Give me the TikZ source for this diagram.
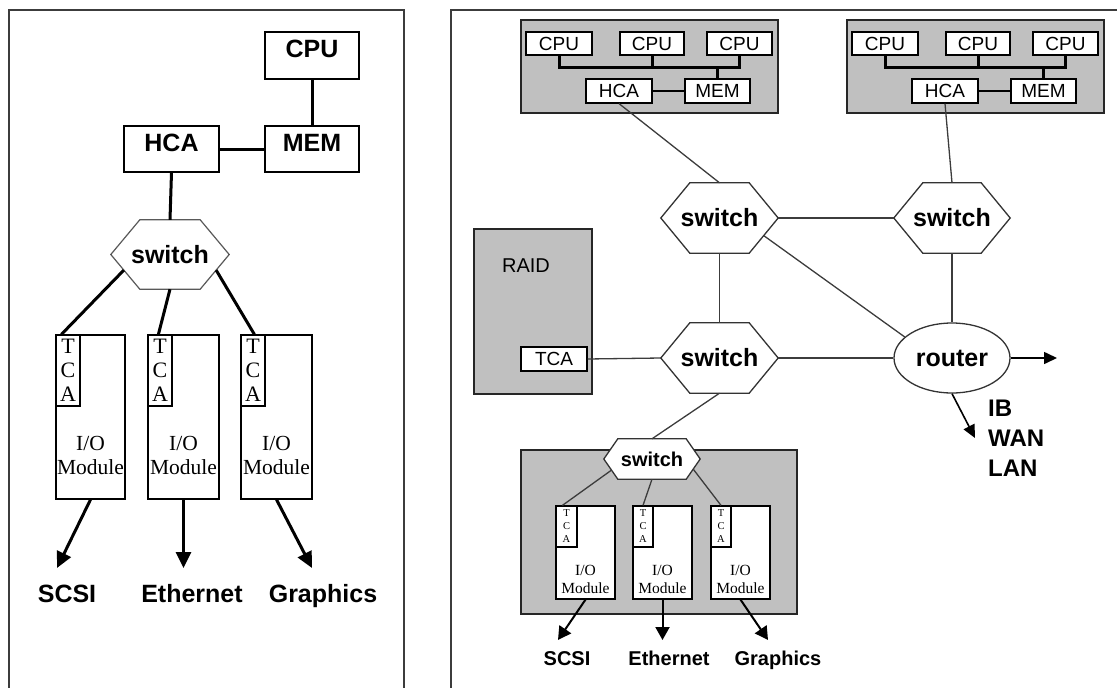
\documentclass[tikz,border=0pt]{standalone}
\usepackage{fontspec}
\setmainfont{Liberation Serif}
\newfontfamily\arialf{Liberation Sans}
\usetikzlibrary{arrows.meta,calc,shapes.geometric}
\definecolor{gfill}{RGB}{192,192,192}
\definecolor{lnc}{RGB}{60,60,60}
\newcommand\setfs[2]{\fontsize{#1}{#2}\selectfont}
% box from corner (x1,y1) to (x2,y2)
\newcommand\bx[7][]{%
  \pgfmathsetmacro\bxcx{(#3+#5)/2}\pgfmathsetmacro\bxcy{(#4+#6)/2}%
  \pgfmathsetmacro\bxw{#5-#3}\pgfmathsetmacro\bxh{#6-#4}%
  \node[inner sep=0pt, #1, minimum width=\bxw pt, minimum height=\bxh pt] (#2) at (\bxcx,\bxcy) {#7};}
\newcommand\hexnode[8]{%
  \bx[draw=none]{#1}{#2}{#3}{#4}{#5}{}
  \filldraw[#8] (#1.west) -- ([xshift=#6pt]#1.north west) -- ([xshift=-#6pt]#1.north east) -- (#1.east) -- ([xshift=-#6pt]#1.south east) -- ([xshift=#6pt]#1.south west) -- cycle;
  \node[font=#7] (#1t) at (#1.center) {switch};
}
\newcommand\hostbox[2]{%
  \begin{scope}[xshift=#2pt]
  \bx[gbox]{#1box}{521}{20}{778}{113}{}
  \bx[sbox]{#1c1}{526}{32}{592}{55}{CPU}
  \bx[sbox]{#1c2}{620}{32}{684}{55}{CPU}
  \bx[sbox]{#1c3}{707}{32}{772}{55}{CPU}
  \bx[sbox]{#1hca}{586}{79}{652}{103}{HCA}
  \bx[sbox]{#1mem}{685}{79}{750}{103}{MEM}
  \coordinate (#1bus) at (600,67);
  \draw[bus] (#1c1.south) -- (#1c1.south |- #1bus) -- (#1c3.south |- #1bus) -- (#1c3.south);
  \draw[bus] (#1c2.south) -- (#1c2.south |- #1bus);
  \draw[bus] (#1mem.north) -- (#1mem.north |- #1bus);
  \draw[hmline] (#1hca.east) -- (#1mem.west);
  \end{scope}
}
\begin{document}
\begin{tikzpicture}[x=1pt,y=-1pt,
  panel/.style={draw=lnc, line width=1.5pt},
  box/.style={draw=black, line width=1.2pt, fill=white},
  sbox/.style={draw=black, line width=1.2pt, fill=white, font=\arialf\setfs{19}{22}},
  gbox/.style={draw=black!85, line width=1.4pt, fill=gfill},
  thk/.style={line width=3pt, draw=black},
  thkarrow/.style={line width=3pt, draw=black, -{Triangle[length=16pt,width=15pt]}},
  bus/.style={line width=3pt, draw=black, line join=miter},
  hmline/.style={line width=2.5pt, draw=black},
  rline/.style={line width=1.3pt, draw=lnc},
  rarrow/.style={line width=1.6pt, draw=black, -{Triangle[length=13pt,width=12pt]}},
  marrow/.style={line width=2pt, draw=black, -{Triangle[length=13pt,width=14pt]}},
  lhex/.style={draw=black!65, line width=1.2pt, fill=white},
  rhex/.style={draw=black!80, line width=1.3pt, fill=white},
  lbig/.style={font=\arialf\bfseries\setfs{25}{30}},
  lab/.style={anchor=base, inner sep=0pt},
]
\useasboundingbox (0,0) rectangle (1117,688);

% ---------------- left panel ----------------
\draw[panel] (9,688) -- (9,10) -- (404,10) -- (404,688);

\bx[box, lbig, text depth=13pt]{Lcpu}{265}{32}{359}{79}{CPU}
\bx[box, lbig, text depth=13pt]{Lmem}{265}{126}{359}{172}{MEM}
\bx[box, lbig, text depth=13pt]{Lhca}{124}{126}{219}{172}{HCA}
\draw[thk] (Lcpu.south) -- (Lmem.north);
\draw[thk] (Lhca.east) -- (Lmem.west);

\hexnode{Lsw}{111}{220}{229}{289}{29}{\arialf\bfseries\setfs{25}{30}}{lhex}
\draw[thk] (Lhca.south) -- (Lsw.north);

% I/O modules
\bx[box]{Lm1}{56}{335}{125}{499}{}
\bx[box]{Lm2}{148}{335}{219}{499}{}
\bx[box]{Lm3}{241}{335}{312}{499}{}
\bx[box, font=\setfs{22}{24}, align=center]{Lt1}{56}{335}{80}{406}{T\\C\\A}
\bx[box, font=\setfs{22}{24}, align=center]{Lt2}{148}{335}{172}{406}{T\\C\\A}
\bx[box, font=\setfs{22}{24}, align=center]{Lt3}{241}{335}{265}{406}{T\\C\\A}
\node[font=\setfs{21.5}{24}, align=center, inner sep=0pt] (Lio1) at (90.5,455) {I/O\\Module};
\node[font=\setfs{21.5}{24}, align=center, inner sep=0pt] (Lio2) at (183.5,455) {I/O\\Module};
\node[font=\setfs{21.5}{24}, align=center, inner sep=0pt] (Lio3) at (276.5,455) {I/O\\Module};

\draw[thk] ($(Lsw.west)!0.45!([xshift=29pt]Lsw.south west)$) -- ([xshift=6pt]Lt1.north west);
\draw[thk] (Lsw.south) -- ([xshift=11pt]Lt2.north west);
\draw[thk] ($(Lsw.east)!0.45!([xshift=-29pt]Lsw.south east)$) -- ([xshift=14pt]Lt3.north west);

\coordinate (La1) at (57,568);
\coordinate (La2) at (183.5,568);
\coordinate (La3) at (312,568);
\draw[thkarrow] (Lm1.south) -- (La1);
\draw[thkarrow] (Lm2.south) -- (La2);
\draw[thkarrow] (Lm3.south) -- (La3);
\node[lbig, lab] (Ll1) at (67,602) {SCSI};
\node[lbig, lab] (Ll2) at (192,602) {Ethernet};
\node[lbig, lab] (Ll3) at (323,602) {Graphics};

% ---------------- right panel ----------------
\draw[panel] (451,688) -- (451,10) -- (1117,10);

\hostbox{ha}{0}
\hostbox{hb}{326}

\hexnode{swA}{661}{183}{778}{253}{29}{\arialf\bfseries\setfs{25}{30}}{rhex}
\hexnode{swB}{894}{183}{1010}{253}{29}{\arialf\bfseries\setfs{25}{30}}{rhex}
\hexnode{swC}{661}{323}{778}{393}{29}{\arialf\bfseries\setfs{25}{30}}{rhex}
\node[ellipse, draw=black!80, line width=1.3pt, fill=white, minimum width=116pt, minimum height=70pt, inner sep=0pt, lbig] (router) at (952,358) {router};

% RAID
\bx[gbox]{raid}{474}{229}{592}{394}{}
\node[font=\arialf\setfs{20}{24}] (raidl) at (526,266) {RAID};
\bx[sbox]{rtca}{521}{347}{587}{371}{TCA}

% connections
\draw[rline] (hahca.south) -- (swA.north);
\draw[rline] (hbhca.south) -- (swB.north);
\draw[rline] (swA.east) -- (swB.west);
\draw[rline] (swA.south) -- (swC.north);
\draw[rline] ($(swA.east)!0.5!([xshift=-29pt]swA.south east)$) -- (router.156);
\draw[rline] (swB.south) -- (router.north);
\draw[rline] (rtca.east) -- (swC.west);
\draw[rline] (swC.east) -- (router.west);

\coordinate (Ro1) at (1057,358);
\coordinate (Ro2) at (975,438);
\draw[rarrow] (router.east) -- (Ro1);
\draw[rarrow] (router.south) -- (Ro2);
\node[font=\arialf\bfseries\setfs{24}{30}, align=left, anchor=west, inner sep=0pt] (wan) at (988,438) {IB\\WAN\\LAN};

% lower I/O box
\bx[gbox]{lowbox}{521}{450}{797}{614}{}
\bx[box]{Rm1}{556}{506}{615}{599}{}
\bx[box]{Rm2}{633}{506}{692}{599}{}
\bx[box]{Rm3}{711}{506}{770}{599}{}
\bx[box, font=\setfs{10.5}{13}, align=center]{Rt1}{556}{506}{577}{547}{T\\C\\A}
\bx[box, font=\setfs{10.5}{13}, align=center]{Rt2}{633}{506}{653}{547}{T\\C\\A}
\bx[box, font=\setfs{10.5}{13}, align=center]{Rt3}{711}{506}{731}{547}{T\\C\\A}
\node[font=\setfs{15.5}{18}, align=center, inner sep=0pt] (Rio1) at (585.5,579) {I/O\\Module};
\node[font=\setfs{15.5}{18}, align=center, inner sep=0pt] (Rio2) at (662.5,579) {I/O\\Module};
\node[font=\setfs{15.5}{18}, align=center, inner sep=0pt] (Rio3) at (740.5,579) {I/O\\Module};

\hexnode{ssw}{604}{439}{700}{479}{14}{\arialf\bfseries\setfs{20}{24}}{rhex}
\draw[rline] (swC.south) -- (ssw.north);
\draw[rline] ($(ssw.west)!0.55!([xshift=14pt]ssw.south west)$) -- ([xshift=7pt]Rt1.north west);
\draw[rline] (ssw.south) -- (Rt2.north);
\draw[rline] ($(ssw.east)!0.5!([xshift=-14pt]ssw.south east)$) -- (Rt3.north);

\coordinate (Ra1) at (558,640);
\coordinate (Ra2) at (662.5,640);
\coordinate (Ra3) at (768,640);
\draw[marrow] (Rm1.south) -- (Ra1);
\draw[marrow] (Rm2.south) -- (Ra2);
\draw[marrow] (Rm3.south) -- (Ra3);
\node[font=\arialf\bfseries\setfs{20}{24}, lab] (Rl1) at (567,665) {SCSI};
\node[font=\arialf\bfseries\setfs{20}{24}, lab] (Rl2) at (669,665) {Ethernet};
\node[font=\arialf\bfseries\setfs{20}{24}, lab] (Rl3) at (778,665) {Graphics};
\end{tikzpicture}
\end{document}
